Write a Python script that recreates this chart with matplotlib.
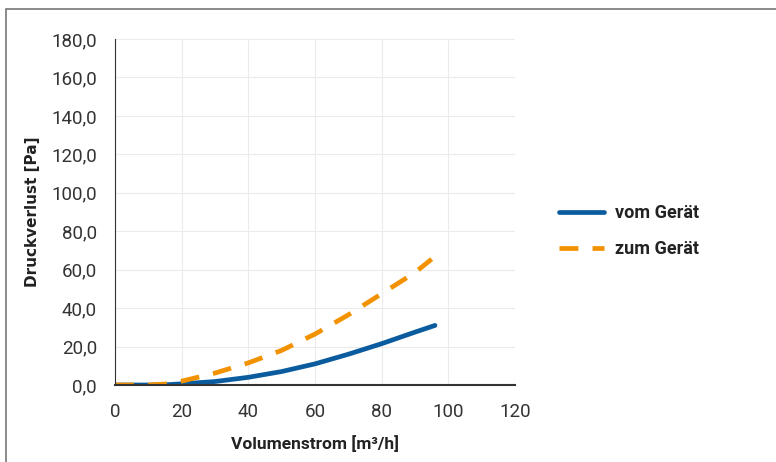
import matplotlib.pyplot as plt
from matplotlib.patches import Rectangle
from matplotlib.ticker import FuncFormatter

volumenstrom = [0, 10, 14, 20, 30, 40, 50, 60, 70, 80, 90, 96]
vom_geraet = [0, 0, 0, 0.6, 1.8, 4.0, 7.0, 11.0, 16.0, 21.5, 27.5, 31.0]
zum_volumenstrom = [0, 10, 15, 20, 30, 40, 50, 60, 70, 80, 90, 95]
zum_geraet = [0, 0, 0.5, 2.0, 6.2, 11.5, 18.0, 26.5, 36.5, 47.5, 58.5, 65.5]

x_ticks = [0, 20, 40, 60, 80, 100, 120]
y_ticks = [0, 20, 40, 60, 80, 100, 120, 140, 160, 180]

narrow = ['Roboto', 'DejaVu Sans']

fig = plt.figure(figsize=(7.76, 4.62), dpi=100)
fig.patches.append(Rectangle((6 / 776, -0.1), 1.2, 1.1 - 9 / 462, transform=fig.transFigure,
                             fill=False, edgecolor='#777777', linewidth=1.2))
ax = fig.add_axes([115 / 776, 1 - 385 / 462, 400 / 776, 346 / 462])

ax.plot(volumenstrom, vom_geraet, color='#0b5c9e', lw=3.4, label='vom Gerät', solid_capstyle='round')
ax.plot(zum_volumenstrom, zum_geraet, color='#f39200', lw=3.4, ls=(0, (4, 3)), label='zum Gerät')

ax.set_xlim(0, 120)
ax.set_ylim(0, 180)
ax.set_xticks(x_ticks)
ax.set_yticks(y_ticks)
ax.yaxis.set_major_formatter(FuncFormatter(lambda v, p: f"{v:.1f}".replace('.', ',')))
ax.grid(True, color='#ebebeb', lw=0.8)
ax.set_axisbelow(True)
for s in ['top', 'right']:
    ax.spines[s].set_visible(False)
ax.spines['left'].set_color('#333333')
ax.spines['bottom'].set_color('#333333')
ax.spines['bottom'].set_linewidth(1.5)
ax.tick_params(axis='x', length=0, pad=13, labelsize=13.5, colors='#333333')
ax.tick_params(axis='y', length=0, pad=13, labelsize=13.5, colors='#333333')
for lbl in ax.get_xticklabels() + ax.get_yticklabels():
    lbl.set_family(narrow)

ax.set_xlabel('Volumenstrom [m³/h]', family=narrow, fontsize=12.5, fontweight='bold', color='#222222', labelpad=10)
ax.set_ylabel('Druckverlust [Pa]', fontsize=11, fontweight='bold', color='#222222', labelpad=8)

leg = fig.legend(loc='center left', bbox_to_anchor=(543 / 776, 1 - 231 / 462), frameon=False,
                 handlelength=2.5, handletextpad=0.6, labelspacing=1.0,
                 prop={'family': narrow, 'size': 13, 'weight': 'bold'})
for t in leg.get_texts():
    t.set_color('#222222')

fig.savefig('out.png', dpi=100)
